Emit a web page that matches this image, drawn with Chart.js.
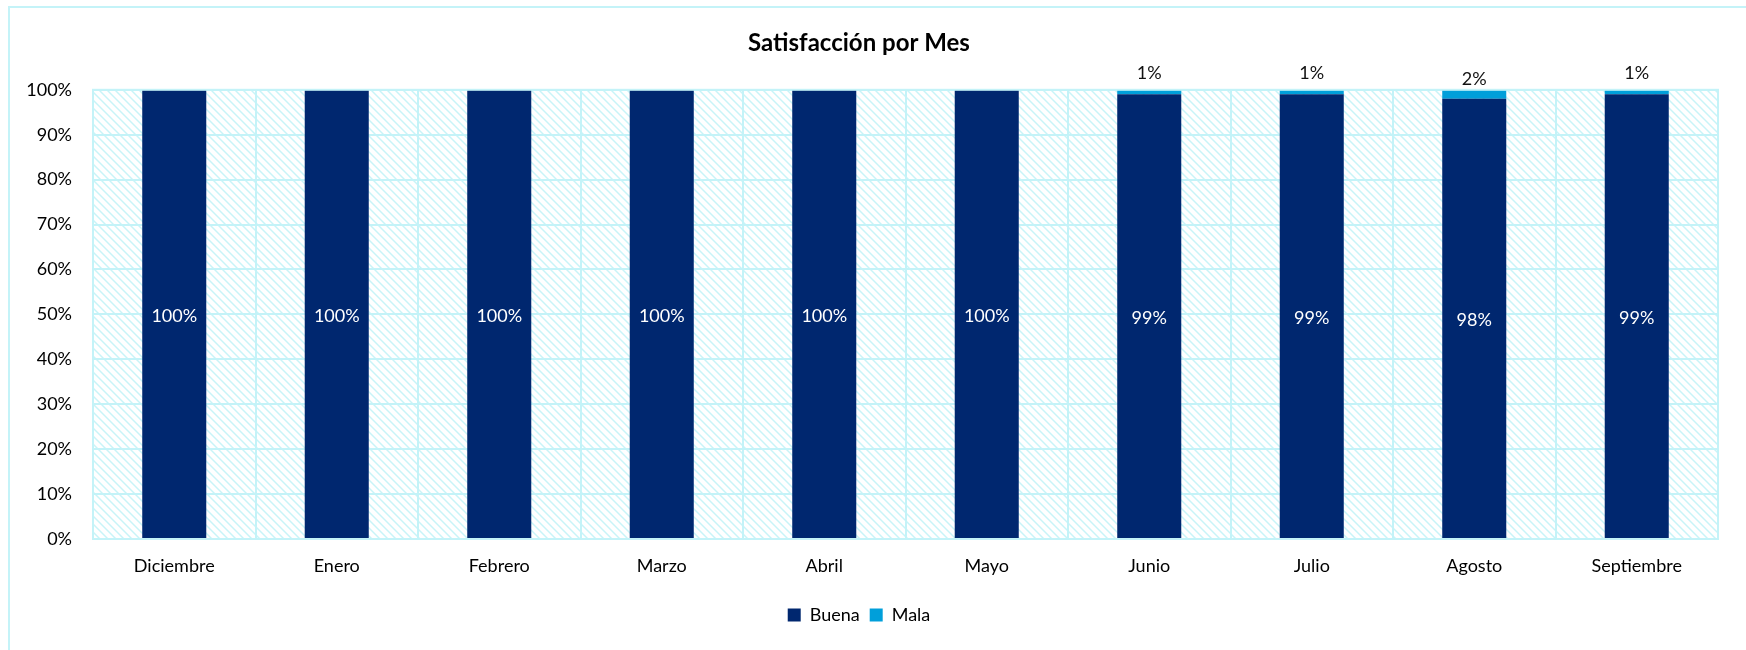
<!DOCTYPE html>
<html>
<head>
<meta charset="utf-8">
<script src="https://cdn.jsdelivr.net/npm/chart.js@4.4.1/dist/chart.umd.min.js"></script>
<style>
  html, body { margin: 0; padding: 0; background: #ffffff; }
  #wrap { width: 1746px; height: 650px; position: relative; }
</style>
</head>
<body>
<div id="wrap"><canvas id="chart" width="1746" height="650"></canvas></div>
<script>
// Monthly satisfaction shares (percent)
const months = ['Diciembre', 'Enero', 'Febrero', 'Marzo', 'Abril', 'Mayo', 'Junio', 'Julio', 'Agosto', 'Septiembre'];
const buena = [100, 100, 100, 100, 100, 100, 99, 99, 98, 99];
const mala = [0, 0, 0, 0, 0, 0, 1, 1, 2, 1];
const yTicks = [0, 10, 20, 30, 40, 50, 60, 70, 80, 90, 100];

const FONT = 'Lato, "Open Sans", "Liberation Sans", sans-serif';
const GRID = '#c4f3f8';

// Diagonal hatch used as the plot-area fill
function makeHatch() {
  const c = document.createElement('canvas');
  c.width = 8; c.height = 8;
  const g = c.getContext('2d');
  g.fillStyle = '#ffffff';
  g.fillRect(0, 0, 8, 8);
  for (let y = 0; y < 8; y++) {
    for (let x = 0; x < 8; x++) {
      const d = ((x - y) % 8 + 8) % 8;
      if (d < 3) {
        g.fillStyle = d === 1 ? '#c8f4f8' : '#e2f9fb';
        g.fillRect(x, y, 1, 1);
      }
    }
  }
  return g.createPattern(c, 'repeat');
}

const backdrop = {
  id: 'backdrop',
  beforeDraw(chart) {
    const { ctx, chartArea: a } = chart;
    ctx.save();
    // outer frame (top and left edges)
    ctx.strokeStyle = GRID;
    ctx.lineWidth = 2;
    ctx.beginPath();
    ctx.moveTo(9, 700);
    ctx.lineTo(9, 7);
    ctx.lineTo(1800, 7);
    ctx.stroke();
    // hatched plot area
    ctx.fillStyle = makeHatch();
    ctx.fillRect(a.left, a.top, a.right - a.left, a.bottom - a.top);
    ctx.restore();
  },
  afterDatasetsDraw(chart) {
    const { ctx } = chart;
    ctx.save();
    ctx.font = '18px ' + FONT;
    ctx.textAlign = 'center';
    ctx.textBaseline = 'middle';
    const m0 = chart.getDatasetMeta(0);
    const m1 = chart.getDatasetMeta(1);
    m0.data.forEach((bar, i) => {
      ctx.fillStyle = '#ffffff';
      ctx.fillText(buena[i] + '%', bar.x, (bar.y + bar.base) / 2 + 2);
    });
    m1.data.forEach((bar, i) => {
      if (mala[i] > 0) {
        ctx.fillStyle = '#111111';
        ctx.fillText(mala[i] + '%', bar.x, (bar.y + bar.base) / 2 - 15 - 4 * (2 - mala[i]));
      }
    });
    ctx.restore();
  },
  afterDraw(chart) {
    const { ctx, chartArea: a } = chart;
    ctx.save();
    ctx.strokeStyle = GRID;
    ctx.lineWidth = 2;
    ctx.strokeRect(a.left, a.top, a.right - a.left, a.bottom - a.top);
    ctx.restore();
  }
};

new Chart(document.getElementById('chart'), {
  type: 'bar',
  data: {
    labels: months,
    datasets: [
      { label: 'Buena', data: buena, backgroundColor: '#00276f', borderWidth: 0 },
      { label: 'Mala', data: mala, backgroundColor: '#009fda', borderWidth: 0 }
    ]
  },
  options: {
    responsive: false,
    animation: false,
    devicePixelRatio: 1,
    categoryPercentage: 1,
    barPercentage: 0.394,
    layout: { padding: { left: 0, right: 28, top: 6, bottom: 16 } },
    plugins: {
      title: {
        display: true,
        text: 'Satisfacción por Mes',
        color: '#000000',
        font: { family: FONT, size: 24, weight: 'bold' },
        padding: { top: 23, bottom: 32 }
      },
      legend: {
        position: 'bottom',
        labels: {
          color: '#000000',
          font: { family: FONT, size: 18 },
          boxWidth: 13,
          boxHeight: 13,
          padding: 10
        }
      },
      tooltip: { enabled: false }
    },
    scales: {
      x: {
        stacked: true,
        grid: { display: true, offset: true, color: GRID, lineWidth: 2, drawTicks: false },
        border: { display: false },
        ticks: { color: '#000000', font: { family: FONT, size: 18 }, padding: 16, maxRotation: 0 },
        afterFit(s) { s.height = 57; }
      },
      y: {
        stacked: true,
        min: 0,
        max: 100,
        afterBuildTicks(s) { s.ticks = yTicks.map(v => ({ value: v })); },
        grid: { color: GRID, lineWidth: 2, drawTicks: false },
        border: { display: false },
        ticks: {
          color: '#000000',
          font: { family: FONT, size: 18 },
          padding: 21,
          callback: v => v + '%'
        },
        afterFit(s) { s.width = 93; }
      }
    }
  },
  plugins: [backdrop]
});
</script>
</body>
</html>
